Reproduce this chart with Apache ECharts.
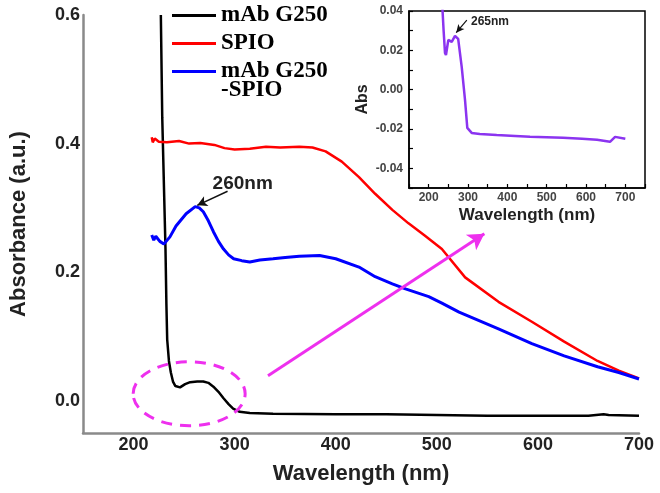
<!DOCTYPE html>
<html><head><meta charset="utf-8">
<script src="https://cdn.jsdelivr.net/npm/echarts@6/dist/echarts.min.js"></script>
<style>html,body{margin:0;padding:0;background:#fff}#c{width:660px;height:493px}</style>
</head><body><div id="c"></div>
<script>
// ---- data ----
const seriesNames = ['mAb G250', 'SPIO', 'mAb G250-SPIO'];
const mainXTicks = [200, 300, 400, 500, 600, 700];
const mainYTicks = [0, 0.2, 0.4, 0.6];
const insetXTicks = [200, 300, 400, 500, 600, 700];
const insetYTicks = [-0.04, -0.02, 0, 0.02, 0.04];

const mabG250 = [
  [227, 0.6], [228.4, 0.44], [231.6, 0.236], [232.5, 0.15], [233.3, 0.095], [235, 0.062],
  [236.9, 0.044], [239, 0.03], [241.4, 0.023], [246, 0.021], [251, 0.026], [256, 0.029],
  [263, 0.030], [269, 0.030], [274, 0.028], [279, 0.022], [284, 0.014], [289, 0.004],
  [294, -0.005], [298.5, -0.012], [305, -0.017], [315, -0.019], [338, -0.020], [400, -0.021],
  [450, -0.021], [500, -0.022], [550, -0.023], [600, -0.023], [650, -0.023], [665, -0.021],
  [670, -0.022], [700, -0.023]
];
const spio = [
  [218, 0.41], [219, 0.402], [221, 0.408], [225, 0.403], [233, 0.402], [245, 0.404],
  [255, 0.400], [266, 0.401], [280, 0.398], [290, 0.393], [300, 0.391], [315, 0.392],
  [331, 0.395], [345, 0.394], [364, 0.395], [377, 0.394], [390, 0.388], [406, 0.372],
  [423, 0.348], [439, 0.322], [456, 0.297], [472, 0.276], [488, 0.257], [505, 0.236],
  [528, 0.192], [561, 0.154], [594, 0.123], [626, 0.092], [659, 0.062], [680, 0.047], [700, 0.035]
];
const mabSpio = [
  [218, 0.258], [220, 0.25], [222, 0.256], [226, 0.248], [230, 0.244], [236, 0.255],
  [242, 0.272], [252, 0.291], [261, 0.302], [265, 0.300], [269, 0.294], [274, 0.28],
  [279, 0.263], [284, 0.248], [289, 0.236], [294, 0.227], [299, 0.221], [307, 0.218],
  [315, 0.216], [325, 0.219], [338, 0.221], [350, 0.223], [364, 0.225], [384, 0.226],
  [400, 0.221], [423, 0.208], [439, 0.193], [456, 0.182], [469, 0.174], [492, 0.162],
  [505, 0.152], [522, 0.138], [561, 0.112], [594, 0.089], [626, 0.07], [659, 0.053],
  [680, 0.044], [700, 0.034]
];
const mabInset = [
  [234, 0.045], [238, 0.03], [241.5, 0.0187], [244, 0.0176], [250, 0.0253], [258.6, 0.0243],
  [267, 0.0273], [275, 0.0258], [284, 0.0116], [292.4, -0.0052], [298.2, -0.0194],
  [309.4, -0.022], [330, -0.0225], [373, -0.023], [420, -0.0235], [457.6, -0.024],
  [541.6, -0.0245], [590, -0.025], [628, -0.0255], [661, -0.0265], [674, -0.024], [700, -0.025]
];

const SANS = "'Liberation Sans', Arial, sans-serif";
const chart = echarts.init(document.getElementById('c'));
const insetXTickMarks = [];
for (let v = 150; v <= 750; v += 50) insetXTickMarks.push(v);
const insetYTickMarks = [-0.05, -0.04, -0.03, -0.02, -0.01, 0, 0.01, 0.02, 0.03, 0.04];

const option = {
  animation: false,
  backgroundColor: '#fff',
  legend: {
    data: seriesNames,
    orient: 'vertical',
    left: 172, top: 4, padding: 0,
    itemWidth: 44, itemHeight: 3, itemGap: 5,
    icon: 'rect',
    formatter: n => n === 'mAb G250-SPIO' ? 'mAb G250' : n,
    textStyle: { fontFamily: "'Liberation Serif', 'Times New Roman', serif", fontWeight: 'bold', fontSize: 23, lineHeight: 22, color: '#000' }
  },
  grid: [
    { left: 79, right: 21, top: 15, bottom: 60 },
    { left: 409, top: 11, width: 236, height: 177, show: true, backgroundColor: '#fff', borderColor: '#000', borderWidth: 1.5, z: 5 }
  ],
  xAxis: [
    {
      type: 'value', gridIndex: 0, min: 150, max: 700,
      name: 'Wavelength (nm)', nameLocation: 'middle', nameGap: 30,
      nameTextStyle: { fontFamily: SANS, fontWeight: 'bold', fontSize: 22, color: '#222' },
      axisLine: { show: true, onZero: false, lineStyle: { color: '#8a8a8a', width: 2.5 } },
      axisTick: { show: false },
      splitLine: { show: false },
      axisLabel: { customValues: mainXTicks, margin: 3, fontFamily: SANS, fontWeight: 'bold', fontSize: 18, color: '#222' }
    },
    {
      type: 'value', gridIndex: 1, min: 150, max: 750, z: 6,
      name: 'Wavelength (nm)', nameLocation: 'middle', nameGap: 19,
      nameTextStyle: { fontFamily: SANS, fontWeight: 'bold', fontSize: 17, color: '#222' },
      axisLine: { show: true, onZero: false, lineStyle: { color: '#000', width: 1.5 } },
      axisTick: { show: true, inside: true, length: 4, customValues: insetXTickMarks, lineStyle: { color: '#000', width: 1.2 } },
      splitLine: { show: false },
      axisLabel: { customValues: insetXTicks, margin: 4, fontFamily: SANS, fontWeight: 'bold', fontSize: 12, color: '#444' }
    }
  ],
  yAxis: [
    {
      type: 'value', gridIndex: 0, min: -0.05, max: 0.6,
      name: 'Absorbance (a.u.)', nameLocation: 'middle', nameGap: 53,
      nameTextStyle: { fontFamily: SANS, fontWeight: 'bold', fontSize: 22, color: '#222' },
      axisLine: { show: true, onZero: false, lineStyle: { color: '#8a8a8a', width: 2.5 } },
      axisTick: { show: false },
      splitLine: { show: false },
      axisLabel: { customValues: mainYTicks, margin: 3, formatter: v => v.toFixed(1), fontFamily: SANS, fontWeight: 'bold', fontSize: 18, color: '#222' }
    },
    {
      type: 'value', gridIndex: 1, min: -0.05, max: 0.04, z: 6,
      name: 'Abs', nameLocation: 'middle', nameGap: 38,
      nameTextStyle: { fontFamily: SANS, fontWeight: 'bold', fontSize: 16, color: '#222' },
      axisLine: { show: true, onZero: false, lineStyle: { color: '#000', width: 1.5 } },
      axisTick: { show: true, inside: true, length: 4, customValues: insetYTickMarks, lineStyle: { color: '#000', width: 1.2 } },
      splitLine: { show: false },
      axisLabel: { customValues: insetYTicks, margin: 6, formatter: v => v.toFixed(2), fontFamily: SANS, fontWeight: 'bold', fontSize: 12, color: '#444' }
    }
  ],
  series: [
    {
      name: seriesNames[0], type: 'line', xAxisIndex: 0, yAxisIndex: 0, data: mabG250,
      showSymbol: false, symbol: 'none', color: '#000', lineStyle: { color: '#000', width: 2.5 },
      markLine: {
        silent: true, symbol: ['none', 'arrow'], symbolSize: [14, 16],
        label: { show: false },
        lineStyle: { color: '#ee30ee', width: 3, type: 'solid' },
        data: [[{ coord: [333, 0.039] }, { coord: [547, 0.26] }]]
      }
    },
    {
      name: seriesNames[1], type: 'line', xAxisIndex: 0, yAxisIndex: 0, data: spio,
      showSymbol: false, symbol: 'none', color: '#ff0000', lineStyle: { color: '#ff0000', width: 2.5 }
    },
    {
      name: seriesNames[2], type: 'line', xAxisIndex: 0, yAxisIndex: 0, data: mabSpio,
      showSymbol: false, symbol: 'none', color: '#0000ff', lineStyle: { color: '#0000ff', width: 3 },
      markLine: {
        silent: true, symbol: ['none', 'arrow'], symbolSize: [8, 10],
        label: { show: false },
        lineStyle: { color: '#111', width: 1.5, type: 'solid' },
        data: [[{ coord: [293, 0.326] }, { coord: [263, 0.304] }]]
      }
    },
    {
      name: 'inset', type: 'line', xAxisIndex: 1, yAxisIndex: 1, data: mabInset, z: 7,
      showSymbol: false, symbol: 'none', color: '#8b34f0', lineStyle: { color: '#8b34f0', width: 2.5 },
      markLine: {
        silent: true, symbol: ['none', 'arrow'], symbolSize: [6, 8],
        label: { show: false },
        lineStyle: { color: '#111', width: 1.2, type: 'solid' },
        data: [[{ coord: [297, 0.0354] }, { coord: [270, 0.029] }]]
      }
    }
  ]
};
chart.setOption(option);

const ell = chart.convertToPixel({ gridIndex: 0 }, [255, 0.011]);
const t260 = chart.convertToPixel({ gridIndex: 0 }, [308, 0.337]);
const t265 = chart.convertToPixel({ gridIndex: 1 }, [356, 0.0344]);
chart.setOption({
  graphic: [
    { type: 'ellipse', shape: { cx: ell[0], cy: ell[1], rx: 56, ry: 32 }, z: 10,
      style: { fill: 'none', stroke: '#ee30ee', lineWidth: 3, lineDash: [11, 8] } },
    { type: 'text', x: t260[0], y: t260[1], z: 10,
      style: { text: '260nm', fill: '#222', font: "bold 19px 'Liberation Sans', Arial, sans-serif", align: 'center', verticalAlign: 'middle' } },
    { type: 'text', x: t265[0], y: t265[1], z: 10,
      style: { text: '265nm', fill: '#222', font: "bold 12px 'Liberation Sans', Arial, sans-serif", align: 'center', verticalAlign: 'middle' } },
    { type: 'text', x: 221, y: 90, z: 10,
      style: { text: '-SPIO', fill: '#000', font: "bold 23px 'Liberation Serif', 'Times New Roman', serif", align: 'left', verticalAlign: 'middle' } }
  ]
});
</script>
</body></html>
